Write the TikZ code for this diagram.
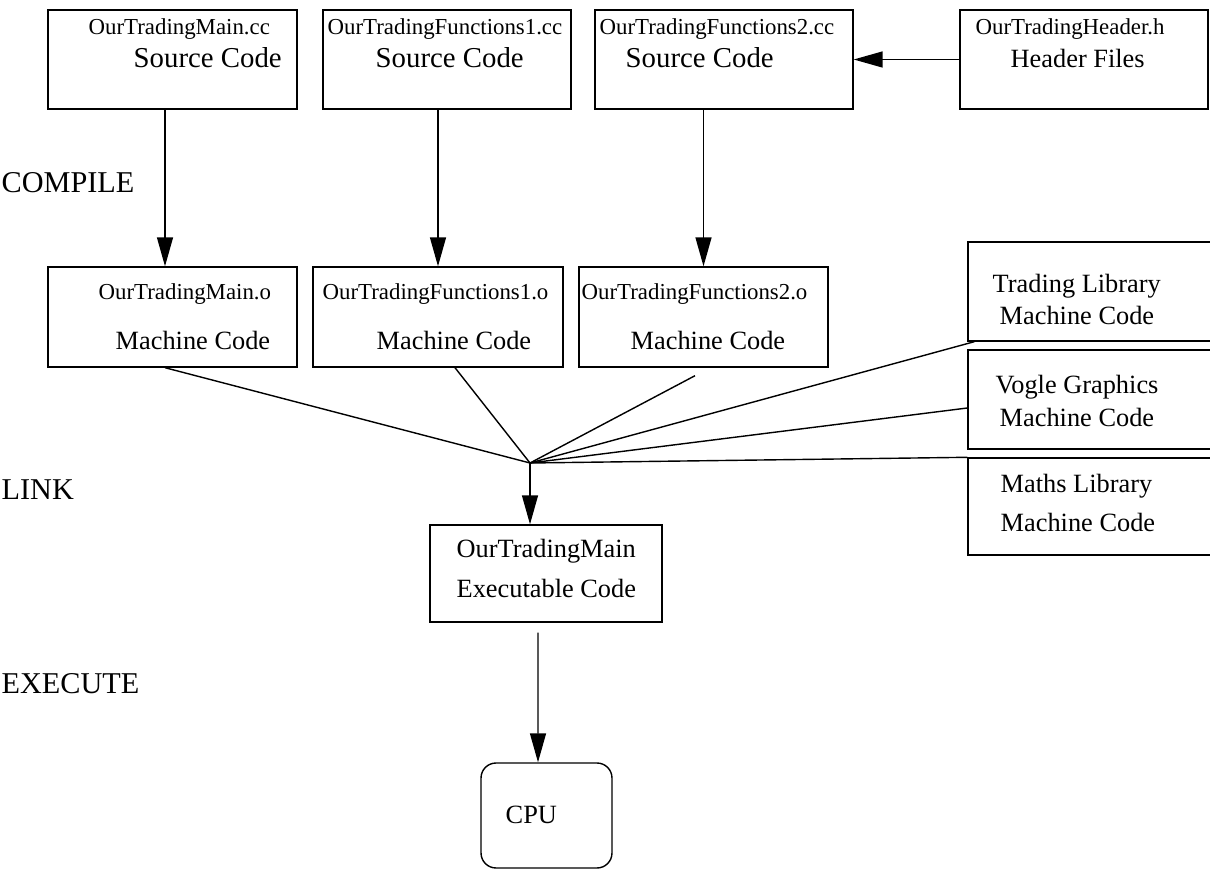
\documentclass[tikz,border=0pt]{standalone}
\usepackage{fontspec}
\setmainfont{Liberation Serif}
\usetikzlibrary{arrows.meta}

\tikzset{
  box/.style={draw, inner sep=0pt, minimum height=1.98cm},
  txt/.style={anchor=base west, inner sep=0pt, font=\fontsize{15}{18}\selectfont},
  fname/.style={txt, font=\fontsize{13}{16}\selectfont},
  kind/.style={txt, font=\fontsize{16.4}{19}\selectfont},
  stage/.style={txt, font=\fontsize{17.2}{20}\selectfont},
  arr/.style={-{Triangle[length=0.58cm,width=0.32cm]}},
}

\begin{document}
\begin{tikzpicture}[x=0.02cm, y=-0.02cm, line width=0.8pt]
\useasboundingbox (0,0) rectangle (1210,871);
% stages
\node[stage] (compile) at (1,193) {COMPILE};
\node[stage] (link) at (1,499) {LINK};
\node[stage] (execute) at (1,693) {EXECUTE};

% sources and header
\node[box, minimum width=4.98cm] (src1) at (172.5,59.5) {};
\node[box, minimum width=4.96cm] (src2) at (447,59.5) {};
\node[box, minimum width=5.16cm] (src3) at (724,59.5) {};
\node[box, minimum width=4.96cm] (hdr) at (1084,59.5) {};
\node[fname] (src1name) at (88,35) {OurTradingMain.cc};
\node[kind] (src1kind) at (133,68) {Source Code};
\node[fname] (src2name) at (327,35) {OurTradingFunctions1.cc};
\node[kind] (src2kind) at (375,68) {Source Code};
\node[fname] (src3name) at (599,35) {OurTradingFunctions2.cc};
\node[kind] (src3kind) at (625,68) {Source Code};
\node[fname] (hdrname) at (975,35) {OurTradingHeader.h};
\node[txt] (hdrkind) at (1010,68) {Header Files};

% object files
\node[box, minimum width=4.98cm, minimum height=2cm] (obj1) at (172.5,317) {};
\node[box, minimum width=5cm, minimum height=2cm] (obj2) at (438,317) {};
\node[box, minimum width=4.98cm, minimum height=2cm] (obj3) at (703.5,317) {};
\node[fname] (obj1name) at (98,300) {OurTradingMain.o};
\node[txt] (obj1kind) at (115,350) {Machine Code};
\node[fname] (obj2name) at (322,300) {OurTradingFunctions1.o};
\node[txt] (obj2kind) at (376,350) {Machine Code};
\node[fname] (obj3name) at (581,300) {OurTradingFunctions2.o};
\node[txt] (obj3kind) at (630,350) {Machine Code};

% libraries
\node[box, minimum width=5.14cm] (tlib) at (1096.5,291.5) {};
\node[box, minimum width=5.14cm] (vlib) at (1096.5,399.5) {};
\node[box, minimum width=5.14cm, minimum height=1.94cm] (mlib) at (1096.5,506.5) {};
\node[txt] (tlibname) at (992,293) {Trading Library};
\node[txt] (tlibkind) at (999,325) {Machine Code};
\node[txt] (vlibname) at (995,394) {Vogle Graphics};
\node[txt] (vlibkind) at (999,426) {Machine Code};
\node[txt] (mlibname) at (1000,492) {Maths Library};
\node[txt] (mlibkind) at (1000,531) {Machine Code};

% executable and cpu
\node[box, minimum width=4.64cm, minimum height=1.94cm] (exe) at (546,573.5) {};
\node[txt] (exename) at (456,557) {OurTradingMain};
\node[txt] (exekind) at (456,597) {Executable Code};
\node[box, rounded corners=0.3cm, minimum width=2.62cm, minimum height=2.1cm] (cpu) at (546.5,815.5) {};
\node[txt] (cpuname) at (505,823) {CPU};

\coordinate (hub) at (530,463);

% compile
\draw[arr] ([xshift=-0.15cm]src1.south) -- ([xshift=-0.15cm]obj1.north);
\draw[arr] (obj2.north |- src2.south) -- (obj2.north);
\draw[arr] (obj3.north |- src3.south) -- (obj3.north);
\draw[arr] (hdr.west) -- (src3.east);
% link
\draw ([xshift=-0.15cm]obj1.south) -- (hub);
\draw ([xshift=0.34cm]obj2.south) -- (hub);
\draw ([xshift=-0.17cm,yshift=-0.16cm]obj3.south) -- (hub);
\draw ([xshift=0.14cm]tlib.south west) -- (hub);
\draw ([yshift=-0.17cm]vlib.west) -- (hub);
\draw (mlib.north west) -- (hub);
\draw[arr] (hub) -- (hub |- exe.north);
% execute
\draw[arr] ([xshift=-0.16cm,yshift=-0.2cm]exe.south) -- ([xshift=-0.17cm]cpu.north);
\end{tikzpicture}
\end{document}
